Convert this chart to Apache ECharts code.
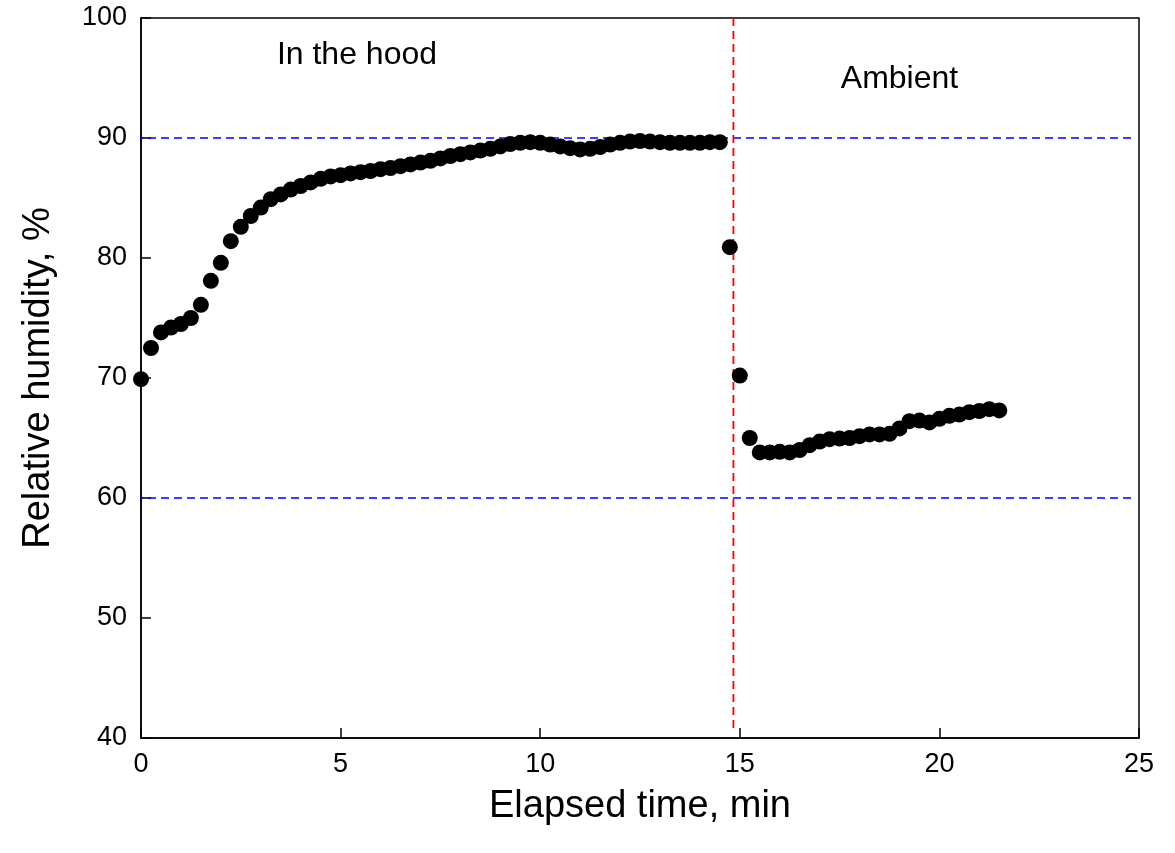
<!DOCTYPE html>
<html>
<head>
<meta charset="utf-8">
<script src="https://cdn.jsdelivr.net/npm/echarts@6/dist/echarts.min.js"></script>
<style>
  html, body { margin: 0; padding: 0; background: #fff; }
  #chart { width: 1175px; height: 853px; }
</style>
</head>
<body>
<div id="chart"></div>
<script>
// Relative humidity readings, sampled every quarter minute
const timeMin = [
  0, 0.25, 0.5, 0.75, 1, 1.25, 1.5, 1.75, 2, 2.25, 2.5, 2.75, 3, 3.25, 3.5, 3.75,
  4, 4.25, 4.5, 4.75, 5, 5.25, 5.5, 5.75, 6, 6.25, 6.5, 6.75, 7, 7.25, 7.5, 7.75,
  8, 8.25, 8.5, 8.75, 9, 9.25, 9.5, 9.75, 10, 10.25, 10.5, 10.75, 11, 11.25, 11.5, 11.75,
  12, 12.25, 12.5, 12.75, 13, 13.25, 13.5, 13.75, 14, 14.25, 14.5,
  14.75, 15, 15.25,
  15.5, 15.75, 16, 16.25, 16.5, 16.75, 17, 17.25, 17.5, 17.75, 18, 18.25, 18.5, 18.75,
  19, 19.25, 19.5, 19.75, 20, 20.25, 20.5, 20.75, 21, 21.25, 21.5
];
const humidity = [
  69.9, 72.5, 73.8, 74.2, 74.5, 75.0, 76.1, 78.1, 79.6, 81.4, 82.6, 83.5, 84.2, 84.9, 85.3, 85.7,
  86.0, 86.3, 86.6, 86.8, 86.9, 87.05, 87.15, 87.25, 87.4, 87.5, 87.65, 87.8, 87.95, 88.1, 88.3, 88.5,
  88.65, 88.8, 88.95, 89.1, 89.3, 89.5, 89.6, 89.65, 89.6, 89.45, 89.3, 89.15, 89.05, 89.1, 89.25, 89.45,
  89.6, 89.7, 89.75, 89.7, 89.65, 89.6, 89.6, 89.6, 89.6, 89.65, 89.65,
  80.9, 70.2, 65.0,
  63.8, 63.8, 63.85, 63.8, 64.0, 64.4, 64.7, 64.9, 64.95, 65.0, 65.15, 65.3, 65.3, 65.35,
  65.8, 66.4, 66.45, 66.3, 66.6, 66.85, 66.95, 67.15, 67.25, 67.4, 67.3
];

// Horizontal reference levels (blue) and the moment the sensor left the hood (red)
const refLevels = [90, 60];
const refSpan = [-0.15, 24.85];
const switchTime = 14.84;
const switchSpan = [100, 40.7];

// Region annotations: [x, y, text]
const notes = [
  [5.41, 96.9, 'In the hood'],
  [19.0, 94.9, 'Ambient']
];

const xTicks = [0, 5, 10, 15, 20, 25];
const yTicks = [40, 50, 60, 70, 80, 90, 100];

const FONT = '"Liberation Sans", Arial, sans-serif';

const points = timeMin.map((t, i) => [t, humidity[i]]);

const refSeries = refLevels.map(lv => ({
  type: 'line',
  data: refSpan.map(x => [x, lv]),
  symbol: 'none',
  clip: false,
  silent: true,
  z: 1,
  lineStyle: { color: '#0000ff', width: 1.6, type: [8, 5] }
}));

const chart = echarts.init(document.getElementById('chart'), null, { renderer: 'canvas' });

chart.setOption({
  animation: false,
  backgroundColor: '#ffffff',
  grid: {
    left: 141, right: 36, top: 18, bottom: 115,
    show: true, borderColor: '#000', borderWidth: 1.5, backgroundColor: 'transparent'
  },
  xAxis: {
    type: 'value',
    min: xTicks[0], max: xTicks[xTicks.length - 1], interval: 5,
    name: 'Elapsed time, min',
    nameLocation: 'middle',
    nameGap: 50,
    nameTextStyle: { fontFamily: FONT, fontSize: 38, color: '#000' },
    axisLine: { show: true, onZero: false, lineStyle: { color: '#000', width: 1.5 } },
    axisTick: { show: true, inside: true, length: 10, lineStyle: { color: '#000', width: 1.5 } },
    axisLabel: { fontFamily: FONT, fontSize: 27, color: '#000', margin: 13 },
    splitLine: { show: false }
  },
  yAxis: {
    type: 'value',
    min: yTicks[0], max: yTicks[yTicks.length - 1], interval: 10,
    name: 'Relative humidity, %',
    nameLocation: 'middle',
    nameGap: 83,
    nameTextStyle: { fontFamily: FONT, fontSize: 38, color: '#000' },
    axisLine: { show: true, onZero: false, lineStyle: { color: '#000', width: 1.5 } },
    axisTick: { show: true, inside: true, length: 10, lineStyle: { color: '#000', width: 1.5 } },
    axisLabel: { fontFamily: FONT, fontSize: 27, color: '#000', margin: 14 },
    splitLine: { show: false }
  },
  series: [
    ...refSeries,
    {
      type: 'line',
      data: switchSpan.map(y => [switchTime, y]),
      symbol: 'none',
      silent: true,
      z: 1,
      lineStyle: { color: '#ff0000', width: 1.8, type: [8, 5] }
    },
    {
      type: 'scatter',
      data: points,
      symbol: 'circle',
      symbolSize: 16,
      z: 3,
      itemStyle: { color: '#000', opacity: 1 }
    }
  ]
});

// Region labels placed at their data coordinates
chart.setOption({
  graphic: notes.map(n => {
    const [px, py] = chart.convertToPixel({ gridIndex: 0 }, [n[0], n[1]]);
    return {
      type: 'text',
      x: px,
      y: py,
      silent: true,
      style: {
        text: n[2],
        fill: '#000',
        font: '32px ' + FONT,
        align: 'center',
        verticalAlign: 'middle'
      }
    };
  })
});
</script>
</body>
</html>
